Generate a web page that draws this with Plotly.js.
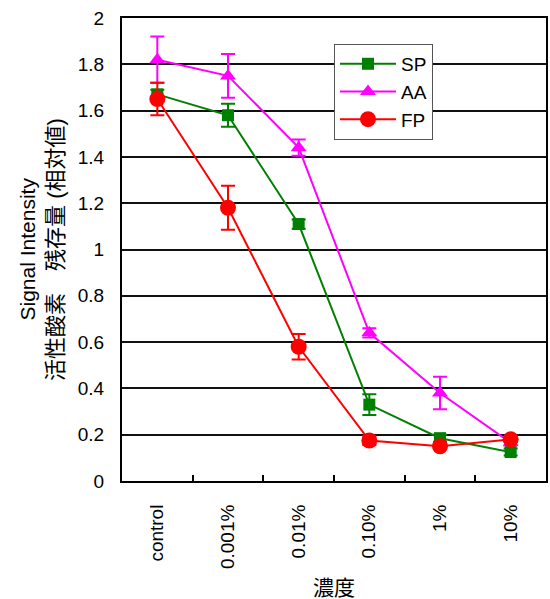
<!DOCTYPE html>
<html><head><meta charset="utf-8">
<script src="https://cdn.plot.ly/plotly-3.0.1.min.js"></script>
<style>body{margin:0;background:#fff}#c{width:550px;height:599px}</style>
</head><body><div id="c"></div>
<script>
const categories = ["control", "0.001%", "0.01%", "0.10%", "1%", "10%"];
const spValues = [1.67, 1.58, 1.11, 0.33, 0.185, 0.125];
const spErrors = [0.02, 0.05, 0.02, 0.045, 0.015, 0.015];
const aaValues = [1.82, 1.75, 1.44, 0.64, 0.38, 0.165];
const aaErrors = [0.10, 0.095, 0.035, 0.02, 0.07, 0.01];
const fpValues = [1.65, 1.18, 0.58, 0.175, 0.15, 0.18];
const fpErrors = [0.07, 0.095, 0.055, 0.02, 0.01, 0.01];

const font = "Arial, 'Liberation Sans', 'Noto Sans CJK JP', sans-serif";
function tr(name, y, err, color, symbol, size) {
  return {
    type: "scatter", mode: "lines+markers", name: name, legendgroup: name,
    x: categories, y: y,
    line: {color: color, width: 2},
    marker: {color: color, symbol: symbol, size: size},
    error_y: {type: "data", array: err, visible: true, color: color, thickness: 2, width: 7}
  };
}
const data = [
  tr("SP", spValues, spErrors, "#008000", "square", 12),
  tr("AA", aaValues, aaErrors, "#FF00FF", "triangle-up", 14),
  tr("FP", fpValues, fpErrors, "#FF0000", "circle", 16)
];
const layout = {
  width: 550, height: 599,
  margin: {l: 122, r: 4, t: 18, b: 118},
  paper_bgcolor: "#fff", plot_bgcolor: "#fff",
  font: {family: font, color: "#000", size: 17},
  showlegend: true,
  legend: {x: 0.5, y: 0.944, xanchor: "left", yanchor: "top", bgcolor: "#fff",
    bordercolor: "#555", borderwidth: 1, font: {size: 19}, tracegroupgap: 8,
    itemwidth: 56, traceorder: "normal"},
  xaxis: {
    type: "category", range: [-0.5, 5.5],
    showline: true, linecolor: "#000", linewidth: 2, mirror: true,
    showgrid: false, tickson: "boundaries", ticks: "inside", ticklen: 6, tickwidth: 1.5, tickcolor: "#000",
    tickangle: -90, tickfont: {size: 19}, ticklabelstandoff: 14,
    title: {text: "濃度", font: {size: 21}, standoff: 18}
  },
  yaxis: {
    range: [0, 2], dtick: 0.2, tick0: 0,
    showline: true, linecolor: "#000", linewidth: 2, mirror: true,
    showgrid: true, gridcolor: "#111", gridwidth: 2,
    ticks: "", tickfont: {size: 19}, ticklabelstandoff: 12,
    zeroline: false
  },
  annotations: [
    {text: "Signal Intensity", xref: "paper", yref: "paper", x: -0.224, y: 0.5,
     xanchor: "center", yanchor: "middle", textangle: -90, showarrow: false, font: {size: 21}},
    {text: "活性酸素\u3000残存量 (相対値)", xref: "paper", yref: "paper", x: -0.157, y: 0.5,
     xanchor: "center", yanchor: "middle", textangle: -90, showarrow: false, font: {size: 22}}
  ]
};
Plotly.newPlot("c", data, layout, {displayModeBar: false});
</script></body></html>
